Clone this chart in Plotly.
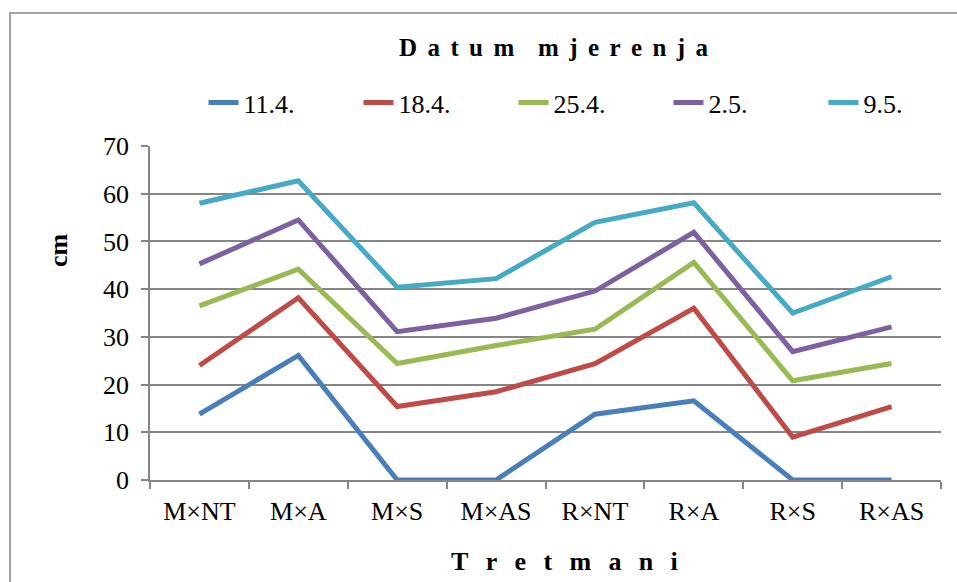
import plotly.graph_objects as go

categories = ["M×NT", "M×A", "M×S", "M×AS", "R×NT", "R×A", "R×S", "R×AS"]
series_names = ["11.4.", "18.4.", "25.4.", "2.5.", "9.5."]
v_11_4 = [13.8, 26.1, 0, 0, 13.8, 16.6, 0, 0]
v_18_4 = [24.0, 38.2, 15.4, 18.5, 24.4, 36.0, 9.0, 15.4]
v_25_4 = [36.5, 44.2, 24.4, 28.2, 31.6, 45.6, 20.8, 24.4]
v_2_5 = [45.3, 54.5, 31.1, 33.9, 39.6, 51.9, 26.9, 32.1]
v_9_5 = [58.0, 62.7, 40.4, 42.2, 54.0, 58.1, 35.0, 42.6]
y_ticks = [0, 10, 20, 30, 40, 50, 60, 70]

series_values = [v_11_4, v_18_4, v_25_4, v_2_5, v_9_5]
colors = ["#4A7EBB", "#BE4B48", "#98B954", "#7D60A0", "#46AAC5"]

FONT = "Liberation Serif, Times New Roman, serif"
NB = "\u00a0"
SIX = "\u2006"

fig = go.Figure()
for name, vals, col in zip(series_names, series_values, colors):
    fig.add_trace(go.Scatter(
        x=categories, y=vals, name=name, mode="lines",
        line=dict(color=col, width=5),
    ))

title_text = (NB + SIX).join(list("Datum")) + NB * 3 + "\u2009" + (NB + SIX).join(list("mjerenja"))
xtitle_text = (NB * 2 + SIX).join(list("Tretmani"))

fig.update_layout(
    width=957, height=582,
    margin=dict(l=150, r=16, t=146, b=102, autoexpand=False),
    paper_bgcolor="white", plot_bgcolor="white",
    font=dict(family=FONT, size=26, color="black"),
    showlegend=True,
    legend=dict(
        orientation="h", x=0.0676, y=1.13, xanchor="left", yanchor="middle",
        font=dict(family=FONT, size=26, color="black"),
        entrywidth=110, entrywidthmode="pixels",
        bgcolor="rgba(0,0,0,0)",
    ),
    xaxis=dict(
        type="category", showgrid=False, showline=True, linecolor="#868686", linewidth=1.5,
        ticks="outside", tickson="boundaries", ticklen=7, tickcolor="#868686", tickwidth=1.5,
        tickfont=dict(family=FONT, size=26, color="black"),
        ticklabelstandoff=7,
        range=[-0.5, 7.5], fixedrange=True,
    ),
    yaxis=dict(
        range=[0, 70], tickvals=y_ticks, showgrid=True, gridcolor="#868686", gridwidth=1.5,
        showline=True, linecolor="#868686", linewidth=1.5,
        ticks="outside", ticklen=7, tickcolor="#868686", tickwidth=1.5,
        tickfont=dict(family=FONT, size=26, color="black"),
        ticklabelstandoff=7, zeroline=False,
    ),
    shapes=[dict(
        type="rect", xref="paper", yref="paper",
        x0=(10 - 150) / 791, x1=1.05, y0=-0.35, y1=(480 - 13) / 334,
        line=dict(color="#868686", width=1.5), fillcolor="rgba(0,0,0,0)", layer="below",
    )],
    annotations=[
        dict(text="<b>" + title_text + "</b>", xref="paper", yref="paper",
             x=(554 - 150) / 791, y=(480 - 47) / 334, showarrow=False,
             xanchor="center", yanchor="middle", font=dict(family=FONT, size=25, color="black")),
        dict(text="<b>" + xtitle_text + "</b>", xref="paper", yref="paper",
             x=(564 - 150) / 791, y=(480 - 561) / 334, showarrow=False,
             xanchor="center", yanchor="middle", font=dict(family=FONT, size=26, color="black")),
        dict(text="<b>cm</b>", xref="paper", yref="paper", textangle=-90,
             x=(58 - 150) / 791, y=(480 - 250) / 334, showarrow=False,
             xanchor="center", yanchor="middle", font=dict(family=FONT, size=26, color="black")),
    ],
)

fig.write_html("out.html", config={"displayModeBar": False},
               post_script="document.body.style.margin='0';")
